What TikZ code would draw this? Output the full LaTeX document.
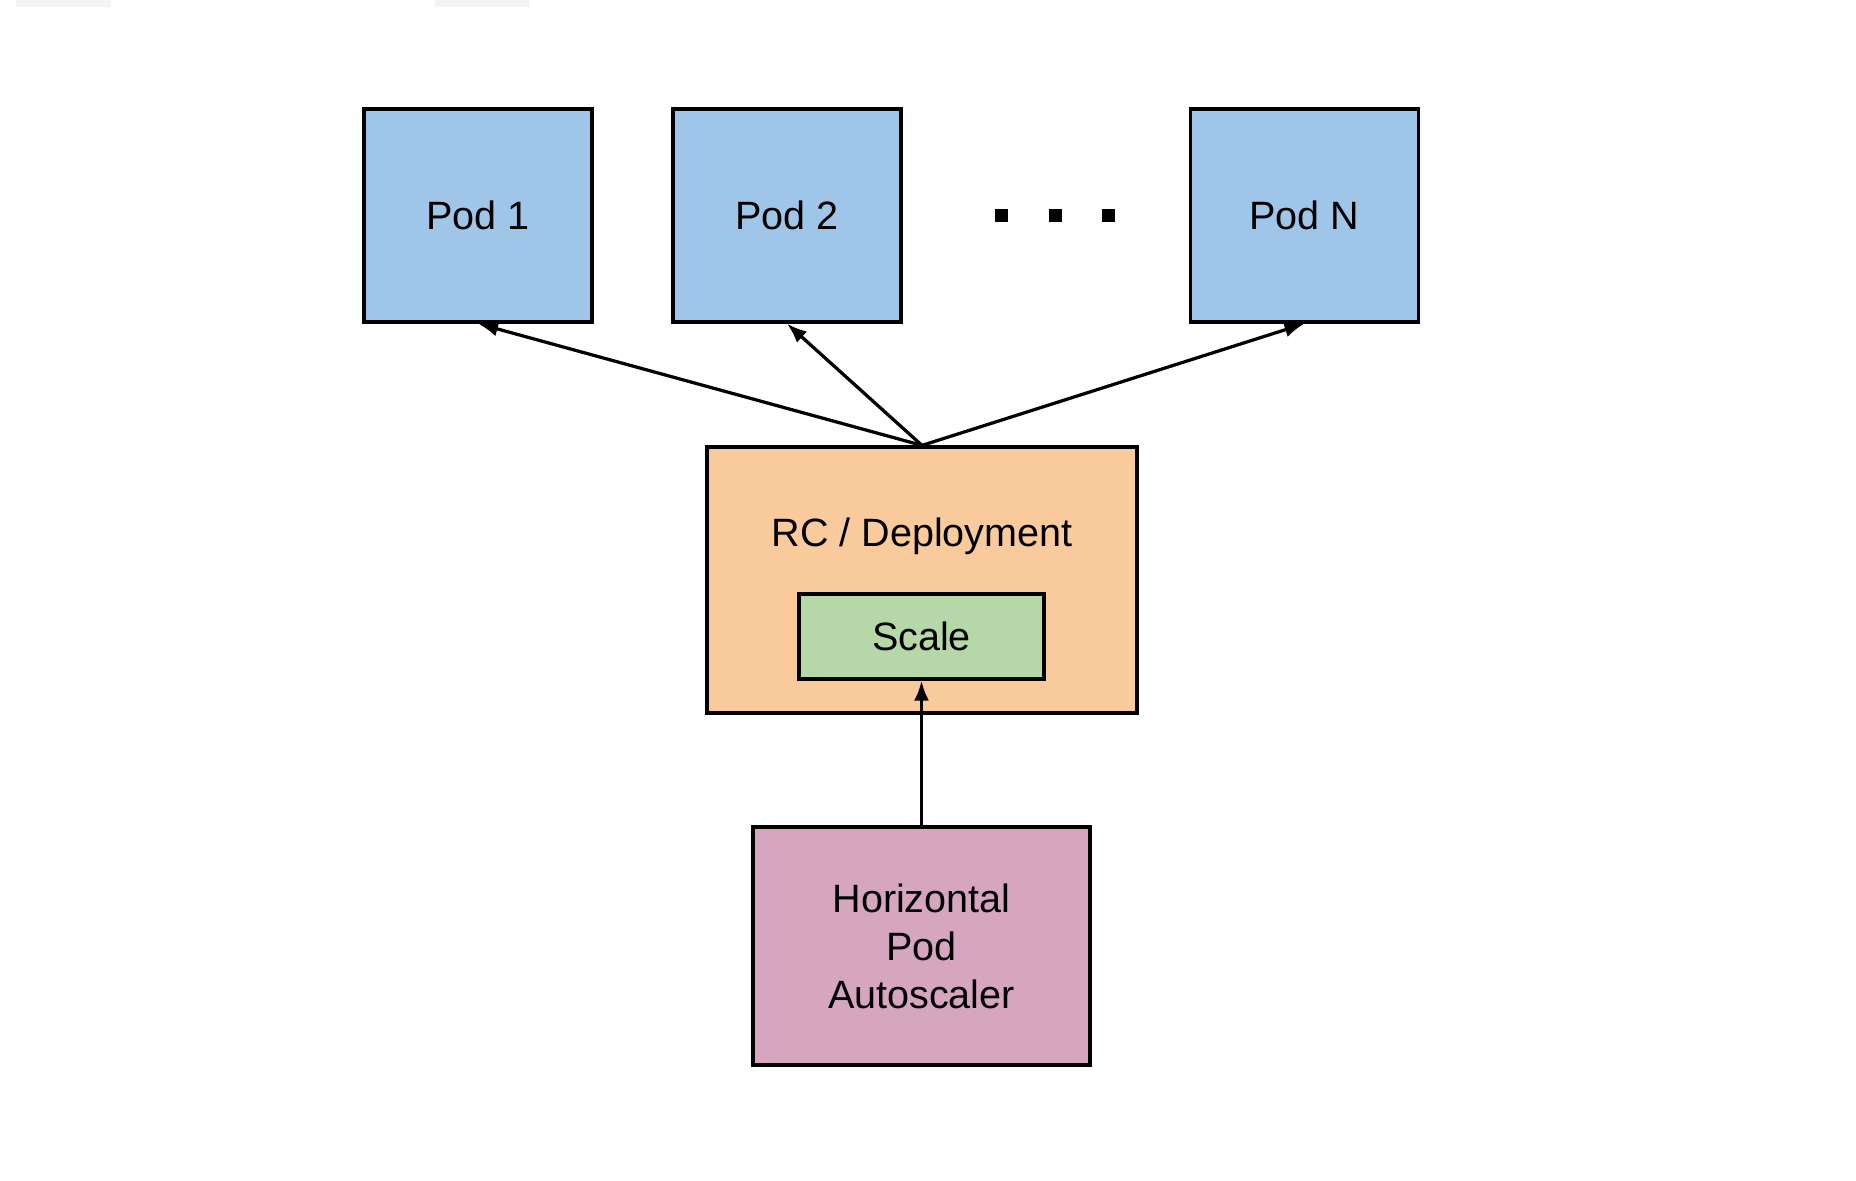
\documentclass[tikz,border=0pt]{standalone}
\usepackage{fontspec}
\setmainfont{Liberation Sans}
\usepackage{tikz}
\usetikzlibrary{arrows.meta, positioning}
\definecolor{podblue}{HTML}{9FC5E8}
\definecolor{rcorange}{HTML}{F9CB9C}
\definecolor{scalegreen}{HTML}{B6D7A8}
\definecolor{hpapink}{HTML}{D5A6BD}
\definecolor{tabgray}{HTML}{F4F4F4}
\tikzset{
    box/.style={rectangle, draw, line width=1.85pt, inner sep=0pt, align=center, font=\fontsize{22.5}{27.3}\selectfont},
    pod/.style={box, fill=podblue, minimum width=4.56cm, minimum height=4.26cm},
    dot/.style={rectangle, fill=black, minimum size=0.26cm, inner sep=0pt},
    arrow/.style={line width=1.85pt, -{Latex[length=0.4cm, width=0.3cm]}}
}
\begin{document}
\begin{tikzpicture}[x=0.02cm, y=-0.02cm]
    \useasboundingbox (0,0) rectangle (1856,1180);
    % faint tabs at the top edge
    \fill [tabgray] (16,0) rectangle (111,7);
    \fill [tabgray] (435,0) rectangle (530,7);

    % Place nodes
    \node [pod] (pod1) at (478,215.5) {Pod 1};
    \node [pod] (pod2) at (787,215.5) {Pod 2};
    \node [pod] (podn) at (1304.5,215.5) {Pod N};
    \foreach \x [count=\i] in {1001,1055,1108}
        \node [dot] (dot\i) at (\x,215) {};
    \node [box, fill=rcorange, minimum width=8.6cm, minimum height=5.32cm] (rc) at (922,580) {};
    \node [box, draw=none, fill=none] (rclabel) at (922,536) {RC / Deployment};
    \node [box, fill=scalegreen, minimum width=4.9cm, minimum height=1.7cm] (scale) at (921.5,636.5) {Scale};
    \node [box, fill=hpapink, minimum width=6.74cm, minimum height=4.76cm] (hpa) at (921.5,946) {Horizontal\\Pod\\Autoscaler};

    % Draw edges
    \draw [arrow] (rc.north) -- (pod1.south);
    \draw [arrow] (rc.north) -- (pod2.south);
    \draw [arrow] (rc.north) -- (podn.south);
    \draw [arrow] (hpa.north) -- (scale.south);
\end{tikzpicture}
\end{document}
